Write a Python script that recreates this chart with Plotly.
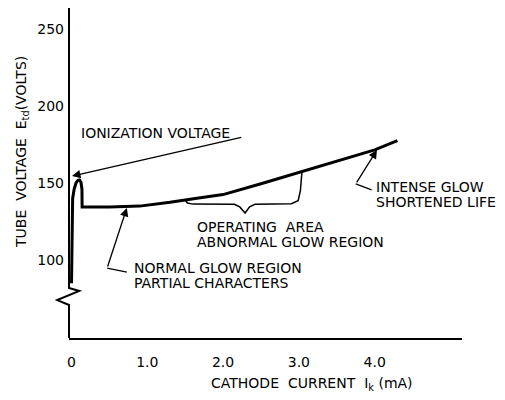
import plotly.graph_objects as go

# ---- data ----
current_mA = [0.0, 0.005, 0.015, 0.035, 0.06, 0.085, 0.105, 0.125, 0.138, 0.14,
              0.5, 0.9, 1.3, 1.7, 2.0, 2.5, 3.0, 3.5, 4.0, 4.3]
voltage_V = [85, 130, 140, 146, 150, 151.8, 152, 150.5, 146, 134.5,
             134.5, 135, 137.5, 140.5, 142.5, 149.5, 157, 164, 171.5, 177.5]

x_tickvals = [0, 1, 2, 3, 4]
x_ticktext = ["0", "1.0", "2.0", "3.0", "4.0"]
y_tickvals = [100, 150, 200, 250]
y_ticktext = ["100", "150", "200", "250"]

x_range = [-0.033, 5.152]
y_range = [49.4, 263.6]

# brace marking the operating area
brace_I = [1.497, 1.53, 1.6, 2.15, 2.22, 2.29, 2.35, 2.42, 2.9, 2.99, 3.02, 3.04]
brace_V = [139.0, 137.0, 136.3, 136.2, 134.5, 130.5, 134.5, 136.2, 136.6, 138.5, 145, 157]

# labels: (text, I, V)
labels = [
    ("IONIZATION VOLTAGE", 0.11, 182.5),
    ("INTENSE GLOW", 4.0, 147.4),
    ("SHORTENED LIFE", 4.0, 137.7),
    ("OPERATING  AREA", 1.64, 121.6),
    ("ABNORMAL GLOW REGION", 1.64, 111.6),
    ("NORMAL GLOW REGION", 0.81, 94.8),
    ("PARTIAL CHARACTERS", 0.81, 85.1),
]
# pointer arrows: tail (I, V) -> tip (I, V)
arrows = [
    ((2.26, 179.9), (0.007, 154.5)),
    ((3.75, 149.4), (4.03, 171.4)),
    ((0.47, 94.8), (0.73, 133.8)),
]
# short connector segments from labels to arrow kinks
connectors = [
    ([3.96, 3.75], [145.5, 149.4]),
    ([0.73, 0.47], [92.2, 94.8]),
]
# y-axis break (paper-x offsets, data-y)
break_px = [0.0, 0.0, 0.026, -0.03, 0.0, 0.0]
break_V = [263.6, 81.8, 79.9, 74.0, 70.8, 49.4]

FONT = "DejaVu Sans"

fig = go.Figure()
fig.add_trace(go.Scatter(x=current_mA, y=voltage_V, mode="lines",
                         line=dict(color="black", width=3), hoverinfo="skip"))
fig.add_trace(go.Scatter(x=brace_I, y=brace_V, mode="lines",
                         line=dict(color="black", width=1.5), hoverinfo="skip"))
for cx, cy in connectors:
    fig.add_trace(go.Scatter(x=cx, y=cy, mode="lines",
                             line=dict(color="black", width=1.3), hoverinfo="skip"))

for txt, xi, yv in labels:
    fig.add_annotation(x=xi, y=yv, text=txt, showarrow=False, xanchor="left",
                       yanchor="middle", borderpad=0,
                       font=dict(family=FONT, size=14, color="black"))

for (tx, ty), (hx, hy) in arrows:
    fig.add_annotation(x=hx, y=hy, ax=tx, ay=ty, axref="x", ayref="y", text="",
                       showarrow=True, arrowhead=2, arrowsize=1.3, arrowwidth=1.3,
                       arrowcolor="black")

# y axis with break
path = "M " + " L ".join(f"{px},{v}" for px, v in zip(break_px, break_V))
fig.add_shape(type="path", path=path, xref="paper", yref="y",
              line=dict(color="black", width=2))

fig.add_annotation(xref="paper", yref="paper", x=0.618, y=-0.1394,
                   xanchor="center", yanchor="middle", borderpad=0,
                   text="CATHODE  CURRENT  I<sub>k</sub> (mA)", showarrow=False,
                   font=dict(family=FONT, size=14, color="black"))
fig.add_annotation(xref="paper", yref="paper", x=-0.1196, y=0.5636, textangle=-90,
                   xanchor="center", yanchor="middle",
                   text="TUBE  VOLTAGE  E<sub>td</sub>(VOLTS)", showarrow=False,
                   font=dict(family=FONT, size=14, color="black"))

# page body has an 8px margin: size the figure so the plot area lands where it should
fig.update_layout(
    width=489, height=384,
    margin=dict(l=61, r=35, t=0, b=54),
    paper_bgcolor="white", plot_bgcolor="white",
    showlegend=False,
    font=dict(family=FONT, size=14, color="black"),
    xaxis=dict(range=x_range, tickvals=x_tickvals, ticktext=x_ticktext,
               showgrid=False, zeroline=False, showline=True, linecolor="black",
               linewidth=2, ticks="", ticklabelstandoff=10, fixedrange=True),
    yaxis=dict(range=y_range, tickvals=y_tickvals, ticktext=y_ticktext,
               showgrid=False, zeroline=False, showline=False, ticks="",
               ticklabelstandoff=4, fixedrange=True),
)

fig.write_html("out.html", config={"displayModeBar": False})
